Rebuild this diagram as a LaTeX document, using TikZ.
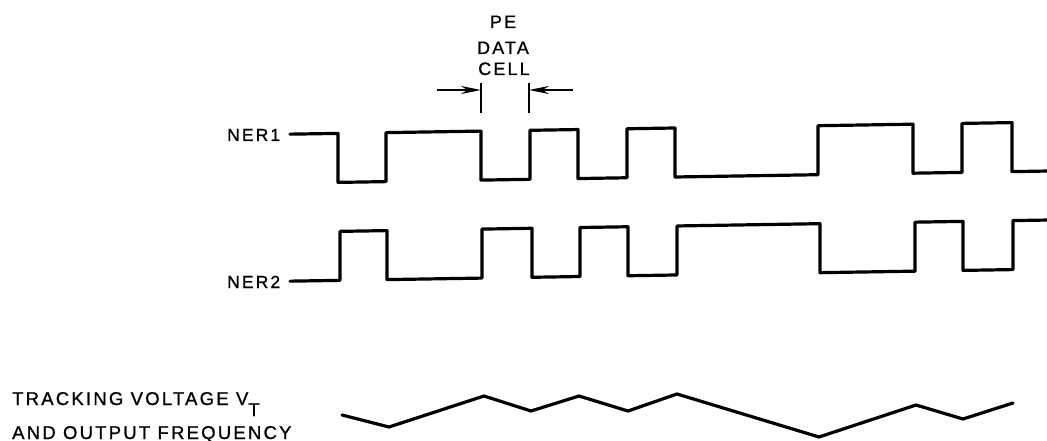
\documentclass[tikz,border=0pt]{standalone}
\usepackage{fontspec}
\setmainfont{Liberation Sans}[LetterSpace=12,FakeBold=1]
\usetikzlibrary{arrows.meta}
\begin{document}
\begin{tikzpicture}[x=1pt,y=-1pt,
  wave/.style={line width=3.2pt, line join=round, line cap=round},
  lbl/.style={inner sep=0pt, anchor=base west, font=\fontsize{17.5}{20}\selectfont},
  bigl/.style={inner sep=0pt, anchor=base west, font=\fontsize{18.5}{21}\selectfont},
  captxt/.style={inner sep=0pt, anchor=base, font=\fontsize{18}{21}\selectfont},
  dimarrow/.style={line width=1.8pt, -{Stealth[length=20pt,width=8pt]}},
  ticksty/.style={line width=2pt}]
\useasboundingbox (0,0) rectangle (1047,441);
% heading
\node[captxt] (pe) at (503,28) {PE};
\node[captxt] (data) at (503,54) {DATA};
\node[captxt] (cell) at (504,75) {CELL};
% dimension marks
\coordinate (t1a) at (481,83);
\coordinate (t1b) at (481,113);
\coordinate (t2a) at (529,83);
\coordinate (t2b) at (529,113);
\coordinate (t1m) at (481,90);
\coordinate (t2m) at (529,90);
\coordinate (a1) at (437,90);
\coordinate (a2) at (573,90);
\draw[ticksty] (t1a) -- (t1b);
\draw[ticksty] (t2a) -- (t2b);
\draw[dimarrow] (a1) -- (t1m);
\draw[dimarrow] (a2) -- (t2m);
% labels
\node[lbl] (ner1) at (227,141) {NER1};
\node[lbl] (ner2) at (227,288) {NER2};
\node[bigl] (trk) at (12,405) {TRACKING VOLTAGE V\raisebox{-11pt}{T}};
\node[bigl] (aof) at (12,439) {AND OUTPUT FREQUENCY};
% waveforms (slight tilt of the original)
\begin{scope}[shift={(300,0)}, yslant=0.016]
\draw[wave] (-10,134) -- (38,134) -- (38,183) -- (86,183) -- (86,134)
  -- (181,134) -- (181,183) -- (230,183) -- (230,134) -- (278,134)
  -- (278,183) -- (327,183) -- (327,134) -- (375,134) -- (375,183)
  -- (518,183) -- (518,134) -- (613,134) -- (613,183) -- (662,183)
  -- (662,134) -- (712,134) -- (712,183) -- (760,183);
\draw[wave] (-10,281) -- (40,281) -- (40,232) -- (87,232) -- (87,281)
  -- (182,281) -- (182,232) -- (232,232) -- (232,281) -- (280,281)
  -- (280,232) -- (328,232) -- (328,281) -- (377,281) -- (377,232)
  -- (520,232) -- (520,281) -- (615,281) -- (615,232) -- (663,232)
  -- (663,281) -- (713,281) -- (713,232) -- (760,232);
\end{scope}
% tracking voltage
\draw[wave] (342,415) -- (389,427) -- (484,396) -- (531,411) -- (579,396)
  -- (628,411) -- (677,394) -- (819,437) -- (916,405) -- (963,419) -- (1013,403);
\end{tikzpicture}
\end{document}
